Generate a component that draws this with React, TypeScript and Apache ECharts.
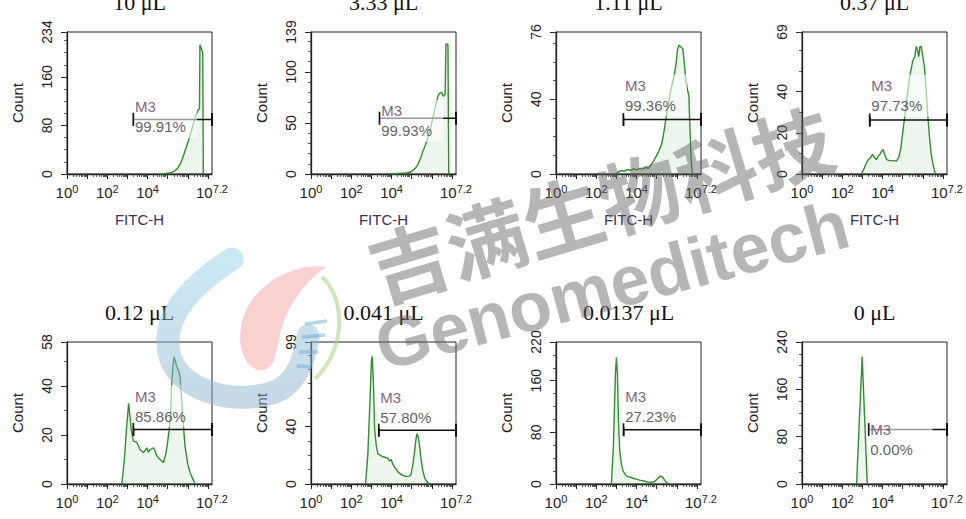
import React, { useEffect, useRef } from 'react';
import * as echarts from 'echarts';

// ---------- data ----------
const titles = ['10 μL', '3.33 μL', '1.11 μL', '0.37 μL', '0.12 μL', '0.041 μL', '0.0137 μL', '0 μL'];
const yMax = [234, 139, 76, 69, 58, 99, 220, 240];
const yTickValues = [
  [0, 80, 160, 234],
  [0, 50, 100, 139],
  [0, 40, 76],
  [0, 20, 40, 69],
  [0, 20, 40, 58],
  [0, 40, 99],
  [0, 80, 160, 220],
  [0, 80, 160, 240],
];
const yMinorStep = [20, 10, 10, 10, 10, 10, 20, 20];
const xTickLabelValues = [0, 2, 4, 7.2];
const xTickLabelText = ['0', '2', '4', '7.2'];
const xMajorTicks = [0, 1, 2, 3, 4, 5, 6, 7];

const gateName = 'M3';
const gatePercent = ['99.91%', '99.93%', '99.36%', '97.73%', '85.86%', '57.80%', '27.23%', '0.00%'];
const gateStart = [3.3, 3.41, 3.35, 3.37, 3.3, 3.37, 3.36, 3.32];
const gateLevel = [90, 54.6, 29.2, 26.2, 22.3, 37.5, 84, 92];
const gateLabelLevel = [94, 52, 42, 38, 31.8, 53.6, 120, 74.5];

// histograms: [log10(FITC-H), count]
const hist1 = [[4.6, 0], [4.9, 1], [5.15, 2], [5.35, 5], [5.5, 10], [5.65, 18], [5.8, 32], [5.95, 47], [6.1, 62], [6.25, 80], [6.4, 97], [6.5, 105], [6.58, 108], [6.6, 213], [6.74, 200], [6.77, 0]];
const hist2 = [[3.9, 0], [4.3, 0.5], [4.7, 1], [4.95, 2], [5.15, 5], [5.3, 9], [5.45, 16], [5.55, 22], [5.65, 27], [5.75, 32], [5.9, 42], [6.05, 55], [6.2, 68], [6.3, 76], [6.38, 79], [6.48, 80], [6.58, 76], [6.66, 78], [6.7, 127], [6.8, 127], [6.84, 0]];
const hist3 = [[3.0, 0], [3.1, 1.2], [3.25, 1.8], [3.4, 1.5], [3.55, 2.5], [3.7, 2], [3.85, 2.8], [4.0, 2.2], [4.15, 3], [4.3, 2.6], [4.45, 3.5], [4.6, 3], [4.72, 5], [4.85, 7], [4.95, 9], [5.1, 12], [5.25, 16], [5.35, 22], [5.45, 29], [5.55, 36], [5.7, 45], [5.85, 52], [5.95, 58], [6.03, 66], [6.1, 69], [6.2, 68], [6.3, 67], [6.38, 58], [6.45, 50], [6.55, 44], [6.6, 42], [6.64, 28], [6.7, 10], [6.77, 0]];
const hist4 = [[2.95, 0], [3.1, 3], [3.2, 5.5], [3.3, 7], [3.4, 8], [3.5, 9.5], [3.6, 8], [3.7, 7], [3.8, 9], [3.9, 10], [4.02, 12], [4.12, 9], [4.2, 7], [4.35, 6.5], [4.5, 6.5], [4.68, 6.3], [4.8, 8], [4.9, 12], [5.0, 20], [5.1, 28], [5.2, 36], [5.34, 47], [5.5, 55], [5.6, 57], [5.67, 62], [5.74, 60], [5.8, 57], [5.86, 62], [5.92, 62], [6.0, 57], [6.08, 52], [6.17, 40], [6.25, 28], [6.33, 18], [6.41, 10], [6.5, 5], [6.62, 0]];
const hist5 = [[2.72, 0], [2.85, 10], [2.95, 22], [3.06, 33], [3.12, 28], [3.19, 22], [3.3, 17.5], [3.47, 17], [3.63, 14], [3.8, 12.8], [3.96, 14.8], [4.05, 13], [4.13, 14], [4.29, 14.8], [4.4, 13], [4.46, 11.5], [4.62, 10], [4.79, 8.8], [4.9, 12], [4.98, 16], [5.07, 22], [5.14, 28], [5.2, 41], [5.26, 48], [5.32, 52], [5.38, 50], [5.45, 48], [5.55, 46], [5.61, 44], [5.7, 34], [5.78, 24], [5.86, 15.5], [6.0, 8], [6.11, 4.7], [6.25, 2], [6.36, 0]];
const hist6 = [[2.71, 0], [2.82, 20], [2.92, 55], [3.0, 86], [3.04, 89], [3.1, 70], [3.16, 38], [3.24, 27], [3.32, 21], [3.45, 20], [3.57, 19], [3.7, 18.5], [3.81, 18], [3.9, 16], [3.98, 17], [4.06, 14], [4.14, 12], [4.26, 9.5], [4.39, 7.6], [4.55, 6], [4.72, 5.3], [4.86, 5.5], [4.96, 6.4], [5.05, 13], [5.13, 21], [5.2, 30], [5.26, 35], [5.32, 33], [5.38, 28], [5.46, 18], [5.54, 10], [5.65, 4], [5.79, 1], [5.95, 0]];
const hist7 = [[2.75, 0], [2.85, 60], [2.95, 170], [3.0, 196], [3.05, 170], [3.1, 100], [3.16, 53], [3.25, 30], [3.33, 20], [3.49, 12.7], [3.6, 11], [3.74, 10], [3.87, 8.5], [3.99, 7.6], [4.15, 6], [4.32, 5], [4.5, 3.5], [4.65, 2.5], [4.8, 3], [4.89, 3.6], [5.0, 7], [5.14, 11.7], [5.22, 12], [5.3, 10], [5.4, 6], [5.47, 2.5], [5.63, 0]];
const hist8 = [[2.71, 0], [2.85, 110], [2.99, 215], [3.1, 120], [3.24, 0]];
const histograms = [hist1, hist2, hist3, hist4, hist5, hist6, hist7, hist8];

// ---------- layout ----------
const COLS = [67, 311, 556, 802];
const ROWS = [32, 342];
const PW = 145;
const PH = 142;
const SANS = 'Arial, "Liberation Sans", sans-serif';
const SERIF = '"Liberation Serif", "Times New Roman", serif';
const LINE_GREEN = '#2f8f2f';

const xMinorTicks: number[] = [];
for (let d = 0; d < 7; d++) {
  for (let k = 2; k <= 9; k++) xMinorTicks.push(d + Math.log10(k));
}

const BLUE_HOOK = 'M 232 259 C 196 282 158 315 170 357 C 182 394 240 406 277 391 C 297 382 305 357 308 336';
const PINK_DROP = 'M 326 267 C 300 262 255 280 243 318 C 235 345 245 369 260 370 C 275 371 276 352 280 335 C 287 305 305 282 326 267 Z';
const GREEN_ARC = 'M 322 277 C 343 295 349 345 315 379';

function buildOption() {
  const grid: any[] = [];
  const xAxis: any[] = [];
  const yAxis: any[] = [];
  const series: any[] = [];
  const graphic: any[] = [];

  for (let i = 0; i < 8; i++) {
    const col = i % 4;
    const row = Math.floor(i / 4);
    const left = COLS[col];
    const top = ROWS[row];
    grid.push({
      left, top, width: PW, height: PH, show: true, borderColor: '#222', borderWidth: 1,
      backgroundColor: 'transparent', containLabel: false, outerBoundsMode: 'none',
    });

    xAxis.push({
      type: 'value', gridIndex: i, min: 0, max: 7.2, position: 'bottom',
      name: 'FITC-H', nameLocation: 'middle', nameGap: 38,
      nameTextStyle: { color: '#3e2f5a', fontSize: 15, fontFamily: SANS },
      axisLine: { show: true, onZero: false, lineStyle: { color: '#222', width: 1.3 } },
      axisTick: { show: true, customValues: xMajorTicks, length: 5, lineStyle: { color: '#222', width: 1 } },
      axisLabel: {
        show: true, customValues: xTickLabelValues, margin: 9, color: '#222',
        formatter: (v: number) => {
          let idx = 0;
          let best = Infinity;
          xTickLabelValues.forEach((t, j) => { if (Math.abs(t - v) < best) { best = Math.abs(t - v); idx = j; } });
          return '{b|10}{s|' + xTickLabelText[idx] + '}';
        },
        rich: {
          b: { fontSize: 15, fontFamily: SANS, color: '#222', lineHeight: 18 },
          s: { fontSize: 11, fontFamily: SANS, color: '#222', lineHeight: 9, verticalAlign: 'top' },
        },
      },
      splitLine: { show: false },
    });
    xAxis.push({
      type: 'value', gridIndex: i, min: 0, max: 7.2, position: 'bottom',
      axisLine: { show: false },
      axisTick: { show: true, customValues: xMinorTicks, length: 3, lineStyle: { color: '#333', width: 0.8 } },
      axisLabel: { show: false },
      splitLine: { show: false },
    });

    yAxis.push({
      type: 'value', gridIndex: i, min: 0, max: yMax[i], position: 'left',
      name: 'Count', nameLocation: 'middle', nameGap: 42, nameRotate: 90,
      nameTextStyle: { color: '#222', fontSize: 15, fontFamily: SANS },
      axisLine: { show: true, onZero: false, lineStyle: { color: '#222', width: 1.3 } },
      axisTick: { show: true, customValues: yTickValues[i], length: 6, lineStyle: { color: '#222', width: 1 } },
      axisLabel: { show: true, customValues: yTickValues[i], rotate: 90, margin: 13, fontSize: 14, fontFamily: SANS, color: '#222' },
      splitLine: { show: false },
    });
    yAxis.push({
      type: 'value', gridIndex: i, min: 0, max: yMax[i], interval: yMinorStep[i], position: 'left',
      axisLine: { show: false },
      axisTick: { show: true, length: 3, lineStyle: { color: '#333', width: 0.8 } },
      axisLabel: { show: false },
      splitLine: { show: false },
    });

    series.push({
      type: 'line', xAxisIndex: 2 * i, yAxisIndex: 2 * i, data: histograms[i],
      symbol: 'none', showSymbol: false, smooth: false, z: 2, silent: true,
      lineStyle: { color: LINE_GREEN, width: 1.4 },
      areaStyle: { color: 'rgba(70,160,70,0.14)' },
    });
    series.push({
      type: 'line', xAxisIndex: 2 * i, yAxisIndex: 2 * i,
      data: [[gateStart[i], gateLevel[i]], [7.2, gateLevel[i]]],
      symbol: 'rect', symbolSize: [2, 13], showSymbol: true, clip: false, z: 3, silent: true,
      itemStyle: { color: '#111' },
      lineStyle: { color: '#111', width: 1.5 },
    });
    series.push({
      type: 'scatter', xAxisIndex: 2 * i, yAxisIndex: 2 * i,
      data: [[gateStart[i], gateLabelLevel[i]]],
      symbolSize: 1, itemStyle: { color: 'rgba(0,0,0,0)' }, z: 5, silent: true, clip: false,
      label: {
        show: true, position: 'right', distance: 0,
        formatter: '{m|' + gateName + '}\n{p|' + gatePercent[i] + '}',
        backgroundColor: 'rgba(255,255,255,0.72)', width: 60, padding: [1, 2, 1, 1],
        rich: {
          m: { fontSize: 15, fontFamily: SANS, color: '#5b3a5e', lineHeight: 20 },
          p: { fontSize: 15, fontFamily: SANS, color: '#383838', lineHeight: 20 },
        },
      },
    });

    graphic.push({
      type: 'text', x: left + PW / 2, y: row === 0 ? 2 : 312, silent: true,
      style: { text: titles[i], font: '22px ' + SERIF, fill: '#111', align: 'center', verticalAlign: 'middle' },
    });
  }

  // watermark logo
  graphic.push({
    type: 'wmHook', x: 0, y: 0, silent: true, z: 90,
    style: {
      fill: 'none', lineWidth: 23, lineCap: 'round',
      stroke: new echarts.graphic.LinearGradient(0, 0, 0, 1, [
        { offset: 0, color: 'rgba(150,210,230,0.5)' },
        { offset: 1, color: 'rgba(140,175,205,0.48)' },
      ]),
    },
  });
  graphic.push({ type: 'wmDrop', x: 0, y: 0, silent: true, z: 90, style: { fill: 'rgba(240,140,140,0.4)', stroke: 'none' } });
  graphic.push({ type: 'wmArc', x: 0, y: 0, silent: true, z: 90, style: { fill: 'none', stroke: 'rgba(170,210,130,0.55)', lineWidth: 4 } });
  const rungs = [[305, 324, 327, 321], [302, 337, 325, 335], [299, 352, 318, 352], [297, 366, 311, 367]];
  rungs.forEach((r) => {
    graphic.push({ type: 'line', silent: true, z: 90, shape: { x1: r[0], y1: r[1], x2: r[2], y2: r[3] }, style: { stroke: 'rgba(110,170,210,0.5)', lineWidth: 3.5 } });
  });
  // watermark text
  graphic.push({
    type: 'text', x: 600, y: 201, rotation: 0.29, silent: true, z: 95,
    style: { text: '吉满生物科技', font: 'bold 80px "Noto Sans CJK SC"', fill: 'rgba(100,100,100,0.47)', align: 'center', verticalAlign: 'middle' },
  });
  graphic.push({
    type: 'text', x: 612, y: 285, rotation: 0.26, silent: true, z: 95,
    style: { text: 'Genomeditech', font: 'bold 70px ' + SANS, fill: 'rgba(100,100,100,0.47)', align: 'center', verticalAlign: 'middle' },
  });

  return {
    animation: false,
    backgroundColor: '#ffffff',
    textStyle: { fontFamily: SANS },
    grid, xAxis, yAxis, series, graphic,
  };
}

let shapesRegistered = false;
function registerShapes() {
  if (shapesRegistered) return;
  echarts.graphic.registerShape('wmHook', echarts.graphic.extendPath(BLUE_HOOK, {}));
  echarts.graphic.registerShape('wmDrop', echarts.graphic.extendPath(PINK_DROP, {}));
  echarts.graphic.registerShape('wmArc', echarts.graphic.extendPath(GREEN_ARC, {}));
  shapesRegistered = true;
}

export default function App() {
  const ref = useRef<HTMLDivElement>(null);
  useEffect(() => {
    if (!ref.current) return;
    registerShapes();
    const chart = echarts.init(ref.current, undefined, { renderer: 'svg' });
    chart.setOption(buildOption() as any);
    return () => chart.dispose();
  }, []);
  return <div ref={ref} style={{ position: 'absolute', left: 0, top: 0, width: 966, height: 519 }} />;
}
